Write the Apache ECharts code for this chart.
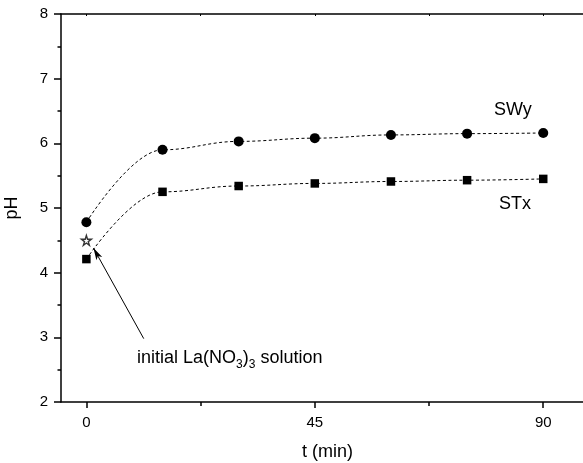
<!DOCTYPE html>
<html>
<head>
<meta charset="utf-8">
<script src="https://cdn.jsdelivr.net/npm/echarts@6/dist/echarts.min.js"></script>
<style>html,body{margin:0;padding:0;background:#fff;overflow:hidden}#c{width:583px;height:463px}</style>
</head>
<body>
<div id="c"></div>
<script>
const tValues = [0, 15, 30, 45, 60, 75, 90];
const swyPH = [4.78, 5.90, 6.03, 6.08, 6.13, 6.15, 6.16];
const stxPH = [4.21, 5.25, 5.34, 5.38, 5.41, 5.43, 5.45];
const initialPoint = [0, 4.50];
const xMajorTicks = [0, 45, 90];
const xMinorTicks = [22.5, 67.5];
const xTopTicks = [0, 22.5, 45, 67.5, 90];
const arrowFrom = [11.3, 2.98];
const arrowTo = [1.4, 4.38];

const FONT = 'Liberation Sans, Arial, sans-serif';
const starPath = 'path://M50,0 L61,35 L98,35 L68,57 L79,91 L50,70 L21,91 L32,57 L2,35 L39,35 Z';

const chart = echarts.init(document.getElementById('c'), null, {renderer: 'canvas'});
const pair = (xs, ys) => xs.map((x, i) => [x, ys[i]]);
const axisCol = '#000';
const gridBox = {left: 61, top: 14, width: 533, height: 388, containLabel: false, outerBoundsMode: 'none'};

chart.setOption({
  animation: false,
  backgroundColor: '#fff',
  grid: [Object.assign({}, gridBox), Object.assign({}, gridBox)],
  xAxis: [
    {
      type: 'value', gridIndex: 0, position: 'bottom', min: -5, max: 100,
      name: 't (min)', nameLocation: 'middle', nameGap: 41,
      nameTextStyle: {fontFamily: FONT, fontSize: 18, color: '#000'},
      axisLine: {show: true, onZero: false, lineStyle: {color: axisCol, width: 1.5}},
      axisTick: {show: true, customValues: xMajorTicks, length: 6, lineStyle: {color: axisCol, width: 1.5}},
      axisLabel: {customValues: xMajorTicks, margin: 13, fontFamily: FONT, fontSize: 15, color: '#000'},
      splitLine: {show: false}
    },
    {
      type: 'value', gridIndex: 0, position: 'top', min: -5, max: 100,
      axisLine: {show: true, onZero: false, lineStyle: {color: axisCol, width: 1.5}},
      axisTick: {show: true, inside: true, customValues: xTopTicks, length: 2, lineStyle: {color: axisCol, width: 1}},
      axisLabel: {show: false},
      splitLine: {show: false}
    },
    {
      type: 'value', gridIndex: 1, position: 'bottom', min: -5, max: 100,
      axisLine: {show: false, onZero: false},
      axisTick: {show: true, customValues: xMinorTicks, length: 4, lineStyle: {color: axisCol, width: 1.5}},
      axisLabel: {show: false},
      splitLine: {show: false}
    }
  ],
  yAxis: [
    {
      type: 'value', gridIndex: 0, min: 2, max: 8, interval: 1,
      name: 'pH', nameLocation: 'middle', nameGap: 40, nameRotate: 90,
      nameTextStyle: {fontFamily: FONT, fontSize: 18, color: '#000'},
      axisLine: {show: true, onZero: false, lineStyle: {color: axisCol, width: 1.5}},
      axisTick: {show: true, length: 7, lineStyle: {color: axisCol, width: 1.5}},
      minorTick: {show: true, splitNumber: 2, length: 3.5, lineStyle: {color: axisCol, width: 1.5}},
      axisLabel: {margin: 13, fontFamily: FONT, fontSize: 15, color: '#000'},
      splitLine: {show: false}
    },
    {type: 'value', gridIndex: 1, min: 2, max: 8, show: false}
  ],
  series: [
    {
      name: 'SWy', type: 'line', xAxisIndex: 0, yAxisIndex: 0,
      data: pair(tValues, swyPH), smooth: 0.4, smoothMonotone: 'x',
      symbol: 'circle', symbolSize: 10, showAllSymbol: true,
      itemStyle: {color: '#000'},
      lineStyle: {color: '#000', width: 1, type: [3, 2.5]}
    },
    {
      name: 'STx', type: 'line', xAxisIndex: 0, yAxisIndex: 0,
      data: pair(tValues, stxPH), smooth: 0.4, smoothMonotone: 'x',
      symbol: 'rect', symbolSize: 8.5, showAllSymbol: true,
      itemStyle: {color: '#000'},
      lineStyle: {color: '#000', width: 1, type: [3, 2.5]}
    },
    {
      name: 'initial', type: 'scatter', xAxisIndex: 0, yAxisIndex: 0,
      data: [initialPoint], symbol: starPath, symbolSize: 10,
      itemStyle: {color: '#fff', borderColor: '#000', borderWidth: 1.4},
      markLine: {
        silent: true, animation: false,
        symbol: ['none', 'arrow'], symbolSize: [5, 12],
        label: {show: false},
        lineStyle: {color: '#000', width: 1, type: 'solid'},
        emphasis: {disabled: true},
        data: [[{coord: arrowFrom}, {coord: arrowTo}]]
      }
    }
  ],
  graphic: [
    {type: 'text', left: 494, top: 101, silent: true,
     style: {text: 'SWy', font: '18px ' + FONT, fill: '#000'}},
    {type: 'text', left: 499, top: 195, silent: true,
     style: {text: 'STx', font: '18px ' + FONT, fill: '#000'}},
    {type: 'text', left: 137, top: 346, silent: true,
     style: {
       text: 'initial La(NO{s|3}){s|3} solution',
       font: '18px ' + FONT, fill: '#000',
       rich: {s: {fontSize: 12, fontFamily: FONT, verticalAlign: 'bottom', lineHeight: 25, fill: '#000'}},
       lineHeight: 25
     }}
  ]
});
</script>
</body>
</html>
